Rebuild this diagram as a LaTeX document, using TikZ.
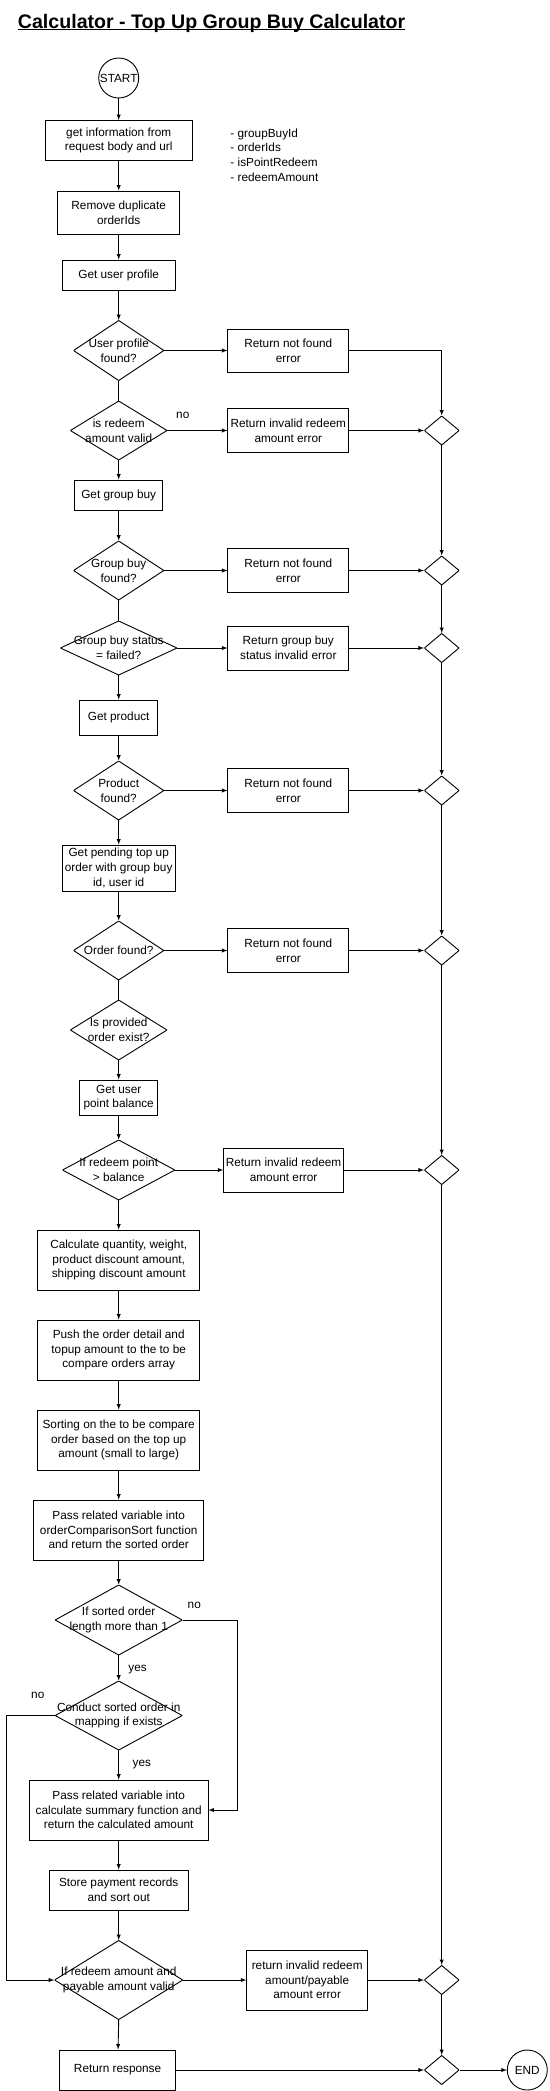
\documentclass[tikz,border=0pt]{standalone}
\usepackage{fontspec}
\setmainfont{Liberation Sans}

\tikzset{
  proc/.style 2 args={draw, minimum width=#1, minimum height=#2, inner sep=1pt, align=center},
  cond/.style 2 args={minimum width=#1, minimum height=#2, inner sep=0pt, align=center,
    path picture={\draw (path picture bounding box.north) -- (path picture bounding box.east)
      -- (path picture bounding box.south) -- (path picture bounding box.west) -- cycle;}},
  joint/.style={cond={34.7pt}{29pt}},
  term/.style={draw, circle, minimum size=40pt, inner sep=0pt},
}

\begin{document}
\begin{tikzpicture}[x=1pt, y=-1pt, line width=0.9pt, font=\fontsize{11.8}{14.6}\selectfont]
\useasboundingbox (0,0) rectangle (549,2091);
\node[anchor=base west, inner sep=0pt, font=\fontsize{19.6}{23}\selectfont\bfseries] (title) at (17.5,28)
  {\underline{\raisebox{0pt}[\height][0pt]{Calculator - Top Up Group Buy Calculator}}};
\node[term] (start) at (118.7,78) {START};
\node[proc={147pt}{40pt}] (info) at (118.7,140.5) {get information from\\request body and url};
\node[anchor=west, align=left, inner sep=0pt] (params) at (230,155) {- groupBuyId\\- orderIds\\- isPointRedeem\\- redeemAmount};
\node[proc={122pt}{43pt}] (dedup) at (118.7,212.5) {Remove duplicate\\orderIds};
\node[proc={113.4pt}{30pt}] (getuser) at (118.7,275) {Get user profile};
\node[cond={90.3pt}{60pt}] (userfound) at (118.7,350.5) {User profile\\found?};
\node[proc={120.8pt}{43pt}] (err1) at (288.3,350.5) {Return not found\\error};
\node[cond={96.6pt}{59pt}] (redeemvalid) at (118.7,430.5) {is redeem\\amount valid};
\node (no1) at (182.8,415) {no};
\node[proc={120.8pt}{44pt}] (err2) at (288.3,430.5) {Return invalid redeem\\amount error};
\node[joint] (m1) at (441.7,430.5) {};
\node[proc={88.2pt}{30pt}] (getgb) at (118.7,495) {Get group buy};
\node[cond={90.3pt}{59pt}] (gbfound) at (118.7,570.5) {Group buy\\found?};
\node[proc={120.8pt}{44pt}] (err3) at (288.3,570.5) {Return not found\\error};
\node[joint] (m2) at (441.7,570.5) {};
\node[cond={116.6pt}{54pt}] (gbstatus) at (118.7,648) {Group buy status\\= failed?};
\node[proc={120.8pt}{44pt}] (err4) at (288.3,648) {Return group buy\\status invalid error};
\node[joint] (m3) at (441.7,648) {};
\node[proc={77.7pt}{35pt}] (getprod) at (118.7,717.5) {Get product};
\node[cond={90.3pt}{59pt}] (prodfound) at (118.7,790.5) {Product\\found?};
\node[proc={120.8pt}{44pt}] (err5) at (288.3,790.5) {Return not found\\error};
\node[joint] (m4) at (441.7,790.5) {};
\node[proc={113.4pt}{46pt}] (getorder) at (118.7,868) {Get pending top up\\order with group buy\\id, user id};
\node[cond={90.3pt}{59pt}] (orderfound) at (118.7,950.5) {Order found?};
\node[proc={120.8pt}{44pt}] (err6) at (288.3,950.5) {Return not found\\error};
\node[joint] (m5) at (441.7,950.5) {};
\node[cond={96.6pt}{60pt}] (orderexist) at (118.7,1030) {Is provided\\order exist?};
\node[proc={77.7pt}{35pt}] (getbal) at (118.7,1097.5) {Get user\\point balance};
\node[cond={112.4pt}{60pt}] (balcheck) at (118.7,1170) {If redeem point\\> balance};
\node[proc={119.7pt}{44pt}] (err7) at (283.6,1170) {Return invalid redeem\\amount error};
\node[joint] (m6) at (441.7,1170) {};
\node[proc={161.8pt}{60pt}] (calc) at (118.7,1260) {Calculate quantity, weight,\\product discount amount,\\shipping discount amount};
\node[proc={161.8pt}{60pt}] (push) at (118.7,1350) {Push the order detail and\\topup amount to the to be\\compare orders array};
\node[proc={161.8pt}{60pt}] (sortarr) at (118.7,1440) {Sorting on the to be compare\\order based on the top up\\amount (small to large)};
\node[proc={170.2pt}{60pt}] (compsort) at (118.7,1530) {Pass related variable into\\orderComparisonSort function\\and return the sorted order};
\node[cond={127.1pt}{70pt}] (lencheck) at (118.7,1620) {If sorted order\\length more than 1};
\node (no2) at (194.3,1605) {no};
\node (yes1) at (137.6,1670) {yes};
\node[cond={127.1pt}{69pt}] (mapcheck) at (118.7,1715.5) {Conduct sorted order in\\mapping if exists};
\node (no3) at (37.8,1695) {no};
\node (yes2) at (141.8,1765) {yes};
\node[proc={178.6pt}{60pt}] (summary) at (118.7,1810) {Pass related variable into\\calculate summary function and\\return the calculated amount};
\node[proc={138.7pt}{40pt}] (store) at (118.7,1890) {Store payment records\\and sort out};
\node[cond={128.2pt}{79pt}] (payvalid) at (118.7,1980) {If redeem amount and\\payable amount valid};
\node[proc={120.8pt}{60pt}] (err8) at (307.2,1980) {return invalid redeem\\amount/payable\\amount error};
\node[joint] (m7) at (441.7,1980) {};
\node[proc={115.5pt}{40pt}] (resp) at (117.6,2070) {Return response};
\node[joint] (m8) at (441.7,2070) {};
\node[term] (end) at (527.3,2070) {END};
\draw [>=latex, ->] (start) -- (info);
\draw [>=latex, ->] (info) -- (dedup);
\draw [>=latex, ->] (dedup) -- (getuser);
\draw [>=latex, ->] (getuser) -- (userfound);
\draw [>=latex, ->] (userfound.east) -- (err1.west);
\draw [>=latex, ->] (err1.east) -| (m1.north);
\draw (userfound.south) -- (redeemvalid.north);
\draw [>=latex, ->] (redeemvalid.east) -- (err2.west);
\draw [>=latex, ->] (err2.east) -- (m1.west);
\draw [>=latex, ->] (redeemvalid.south) -- (getgb);
\draw [>=latex, ->] (getgb) -- (gbfound.north);
\draw [>=latex, ->] (gbfound.east) -- (err3.west);
\draw [>=latex, ->] (err3.east) -- (m2.west);
\draw (gbfound.south) -- (gbstatus.north);
\draw [>=latex, ->] (gbstatus.east) -- (err4.west);
\draw [>=latex, ->] (err4.east) -- (m3.west);
\draw [>=latex, ->] (gbstatus.south) -- (getprod);
\draw [>=latex, ->] (getprod) -- (prodfound.north);
\draw [>=latex, ->] (prodfound.east) -- (err5.west);
\draw [>=latex, ->] (err5.east) -- (m4.west);
\draw [>=latex, ->] (prodfound.south) -- (getorder);
\draw [>=latex, ->] (getorder) -- (orderfound.north);
\draw [>=latex, ->] (orderfound.east) -- (err6.west);
\draw [>=latex, ->] (err6.east) -- (m5.west);
\draw (orderfound.south) -- (orderexist.north);
\draw [>=latex, ->] (orderexist.south) -- (getbal);
\draw [>=latex, ->] (getbal) -- (balcheck.north);
\draw [>=latex, ->] (balcheck.east) -- (err7.west);
\draw [>=latex, ->] (err7.east) -- (m6.west);
\draw [>=latex, ->] (balcheck.south) -- (calc);
\draw [>=latex, ->] (calc) -- (push);
\draw [>=latex, ->] (push) -- (sortarr);
\draw [>=latex, ->] (sortarr) -- (compsort);
\draw [>=latex, ->] (compsort) -- (lencheck.north);
\draw [>=latex, ->] (lencheck.south) -- (mapcheck.north);
\draw [>=latex, ->] (lencheck.east) -- ++(55.2,0) |- (summary.east);
\draw [>=latex, ->] (mapcheck.south) -- (summary);
\draw [>=latex, ->] (mapcheck.west) -- ++(-47.8,0) |- (payvalid.west);
\draw [>=latex, ->] (summary) -- (store);
\draw [>=latex, ->] (store) -- (payvalid.north);
\draw [>=latex, ->] (payvalid.east) -- (err8.west);
\draw [>=latex, ->] (err8.east) -- (m7.west);
\draw [>=latex, ->] (payvalid.south) -- (resp);
\draw [>=latex, ->] (resp.east) -- (m8.west);
\draw [>=latex, ->] (m8.east) -- (end.west);
\draw [>=latex, ->] (m1.south) -- (m2.north);
\draw [>=latex, ->] (m2.south) -- (m3.north);
\draw [>=latex, ->] (m3.south) -- (m4.north);
\draw [>=latex, ->] (m4.south) -- (m5.north);
\draw [>=latex, ->] (m5.south) -- (m6.north);
\draw [>=latex, ->] (m6.south) -- (m7.north);
\draw [>=latex, ->] (m7.south) -- (m8.north);
\end{tikzpicture}
\end{document}
